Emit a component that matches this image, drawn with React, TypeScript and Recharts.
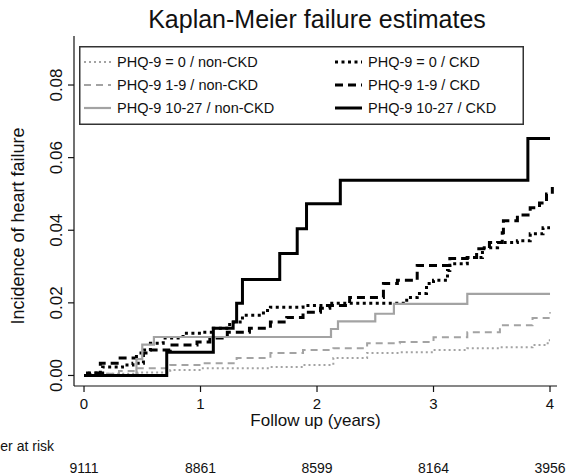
import React from 'react';
import { LineChart, Line, XAxis, YAxis, Legend } from 'recharts';

// ---------- data ----------
const xTicks = [0, 1, 2, 3, 4];
const yTicks = [0, 0.02, 0.04, 0.06, 0.08];
const riskTimes = [0, 1, 2, 3, 4];
const riskCounts = [9111, 8861, 8599, 8164, 3956];

// [time (years), cumulative incidence]
const phq0NonCkd = [
  [0, 0], [0.2, 0.0005], [0.46, 0.0008], [0.74, 0.0015], [1.02, 0.002], [1.6, 0.0023],
  [1.88, 0.0029], [2.14, 0.0048], [2.43, 0.0062], [2.71, 0.0064], [3.0, 0.007],
  [3.29, 0.0075], [3.57, 0.0078], [3.85, 0.0084], [3.98, 0.0097], [4.0, 0.0097],
];
const phq19NonCkd = [
  [0, 0], [0.1, 0.0005], [0.3, 0.0012], [0.45, 0.002], [0.74, 0.0029], [1.02, 0.0034],
  [1.31, 0.0048], [1.6, 0.0062], [1.88, 0.007], [2.14, 0.0075], [2.43, 0.0089],
  [2.71, 0.0092], [3.0, 0.0105], [3.29, 0.0119], [3.57, 0.0138], [3.85, 0.0158],
  [4.0, 0.0174],
];
const phq1027NonCkd = [
  [0, 0], [0.45, 0.0045], [0.5, 0.0085], [0.6, 0.0106], [2.12, 0.0128], [2.18, 0.0149],
  [2.5, 0.017], [2.66, 0.0197], [3.29, 0.0225], [4.0, 0.0225],
];
const phq0Ckd = [
  [0, 0], [0.05, 0.0007], [0.16, 0.0023], [0.33, 0.0029], [0.42, 0.0034], [0.51, 0.007],
  [0.57, 0.0089], [0.68, 0.0103], [0.85, 0.0116], [1.02, 0.0119], [1.11, 0.013],
  [1.25, 0.0147], [1.36, 0.0166], [1.54, 0.0179], [1.6, 0.0188], [1.88, 0.0193],
  [2.09, 0.0199], [2.77, 0.0215], [2.86, 0.0226], [2.94, 0.0253], [3.0, 0.0262],
  [3.12, 0.0289], [3.14, 0.0308], [3.29, 0.0325], [3.42, 0.0352], [3.55, 0.0366],
  [3.72, 0.0371], [3.83, 0.039], [3.94, 0.0407], [4.0, 0.0407],
];
const phq19Ckd = [
  [0, 0], [0.03, 0.0007], [0.14, 0.0034], [0.31, 0.0048], [0.45, 0.0062], [0.57, 0.007],
  [0.74, 0.0084], [0.97, 0.0092], [1.08, 0.0103], [1.23, 0.0119], [1.42, 0.013],
  [1.6, 0.0147], [1.74, 0.016], [1.88, 0.0174], [2.03, 0.0185], [2.11, 0.0193],
  [2.28, 0.0215], [2.57, 0.0253], [2.69, 0.0262], [2.86, 0.0303], [3.14, 0.0322],
  [3.29, 0.0325], [3.37, 0.0349], [3.48, 0.0366], [3.59, 0.0393], [3.6, 0.0426],
  [3.72, 0.0442], [3.83, 0.0462], [3.91, 0.0475], [3.97, 0.05], [4.02, 0.0519],
];
const phq1027Ckd = [
  [0, 0], [0.71, 0.0064], [1.11, 0.013], [1.28, 0.0147], [1.31, 0.0199], [1.36, 0.0264],
  [1.68, 0.0336], [1.83, 0.0404], [1.91, 0.0473], [2.2, 0.0538], [3.81, 0.0653],
  [4.0, 0.0653],
];

const GRAY = '#a3a3a3';
const BLACK = '#000000';

const toPts = (arr: number[][]) => arr.map(([t, v]) => ({ t, v }));

const series = [
  { key: 'g0', name: 'PHQ-9 = 0 / non-CKD', data: phq0NonCkd, color: GRAY, width: 2, dash: '2 3' },
  { key: 'b0', name: 'PHQ-9 = 0 / CKD', data: phq0Ckd, color: BLACK, width: 3, dash: '3 3.5' },
  { key: 'g1', name: 'PHQ-9 1-9 / non-CKD', data: phq19NonCkd, color: GRAY, width: 2, dash: '7 5' },
  { key: 'b1', name: 'PHQ-9 1-9 / CKD', data: phq19Ckd, color: BLACK, width: 3, dash: '8 5' },
  { key: 'g2', name: 'PHQ-9 10-27 / non-CKD', data: phq1027NonCkd, color: GRAY, width: 2.2, dash: undefined },
  { key: 'b2', name: 'PHQ-9 10-27 / CKD', data: phq1027Ckd, color: BLACK, width: 3, dash: undefined },
];

const FONT = '"Liberation Sans", Arial, sans-serif';

const LegendBox = () => {
  const rowY = [16, 39, 62];
  const colX = [5, 256];
  const sampleW = 27;
  return (
    <svg width={445} height={79} style={{ display: 'block' }}>
      <rect x={0.75} y={0.75} width={443.5} height={77.5} fill="#fff" stroke="#333" strokeWidth={1.5} />
      {series.map((s, i) => {
        const col = i % 2;
        const row = Math.floor(i / 2);
        const x = colX[col];
        const y = rowY[row];
        return (
          <g key={s.key}>
            <line x1={x} x2={x + sampleW} y1={y} y2={y} stroke={s.color} strokeWidth={s.width}
              strokeDasharray={s.dash} />
            <text x={x + sampleW + 6} y={y} dy="0.35em" fontSize={14.5} fontFamily={FONT} fill="#111">
              {s.name}
            </text>
          </g>
        );
      })}
    </svg>
  );
};

const YTick = (props: any) => {
  const { x, y, payload } = props;
  const bx = x - 4;
  return (
    <text x={bx} y={y} transform={`rotate(-90, ${bx}, ${y})`} textAnchor="middle"
      fontSize={17} fontFamily={FONT} fill="#111">
      {payload.value.toFixed(2)}
    </text>
  );
};

const XTick = (props: any) => {
  const { x, y, payload } = props;
  const idx = riskTimes.indexOf(payload.value);
  return (
    <g>
      <text x={x} y={y + 15} textAnchor="middle" fontSize={15} fontFamily={FONT} fill="#111">
        {payload.value}
      </text>
      {idx >= 0 && (
        <text x={x} y={y + 79} textAnchor="middle" fontSize={14} fontFamily={FONT} fill="#111">
          {riskCounts[idx]}
        </text>
      )}
    </g>
  );
};

export default function App() {
  return (
    <div style={{ position: 'absolute', left: 0, top: 0, width: 569, height: 476, background: '#fff' }}>
      <div style={{
        position: 'absolute', left: 0, width: 634, top: 5, textAlign: 'center',
        fontFamily: FONT, fontSize: 25, color: '#111', lineHeight: '29px',
      }}>
        Kaplan-Meier failure estimates
      </div>
      <LineChart width={569} height={476} margin={{ top: 36, right: 12, left: 0, bottom: 0 }}>
        <XAxis xAxisId="main" type="number" dataKey="t" domain={[-0.086, 4.06]} ticks={xTicks}
          allowDataOverflow interval={0} tickSize={6} tickMargin={2} height={90}
          axisLine={{ stroke: '#111', strokeWidth: 1.2 }} tickLine={{ stroke: '#111', strokeWidth: 1.2 }}
          tick={<XTick />}
          label={(p: any) => {
            const vb = p.viewBox;
            return (
              <g>
                <text x={vb.x + vb.width / 2} y={vb.y + 40} textAnchor="middle" fontSize={17}
                  fontFamily={FONT} fill="#111">Follow up (years)</text>
                <text x={54} y={vb.y + 65} textAnchor="end" fontSize={14} fontFamily={FONT}
                  fill="#111">Number at risk</text>
              </g>
            );
          }} />
        <YAxis type="number" domain={[-0.0029, 0.0935]} ticks={yTicks} allowDataOverflow
          interval={0} width={74} tickSize={6} tickMargin={2}
          axisLine={{ stroke: '#111', strokeWidth: 1.2 }} tickLine={{ stroke: '#111', strokeWidth: 1.2 }}
          tick={<YTick />}
          label={() => {
            const cx = 24;
            const cy = 226;
            return (
              <text x={cx} y={cy} transform={`rotate(-90, ${cx}, ${cy})`} textAnchor="middle"
                fontSize={18} fontFamily={FONT} fill="#111">Incidence of heart failure</text>
            );
          }} />
        <Legend layout="horizontal" verticalAlign="middle" align="center"
          wrapperStyle={{ position: 'absolute', left: 79, top: 46, width: 445, height: 79 }}
          content={() => <LegendBox />} />
        {series.map((s) => (
          <Line key={s.key} xAxisId="main" data={toPts(s.data)} dataKey="v" name={s.name}
            type="stepAfter" stroke={s.color} strokeWidth={s.width} strokeDasharray={s.dash}
            dot={false} activeDot={false} isAnimationActive={false} legendType="none" />
        ))}
      </LineChart>
    </div>
  );
}
